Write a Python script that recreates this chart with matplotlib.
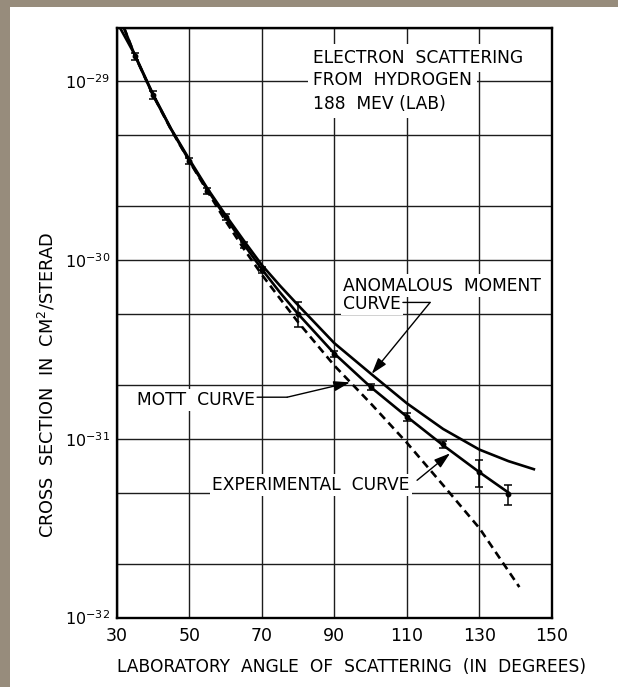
import numpy as np
import matplotlib
matplotlib.use("Agg")
import matplotlib.pyplot as plt
from matplotlib.patches import Rectangle
from matplotlib.ticker import LogLocator, NullFormatter, FuncFormatter, FixedLocator

# ---------------- data ----------------
exp_angle = [32, 35, 40, 45, 50, 55, 60, 65, 70, 75, 80, 90, 100, 110, 120, 130, 138]
exp_val = [2.0e-29, 1.40e-29, 8.4e-30, 5.4e-30, 3.6e-30, 2.48e-30, 1.74e-30, 1.23e-30,
           8.9e-31, 6.6e-31, 5.0e-31, 3.0e-31, 1.95e-31, 1.33e-31, 9.2e-32, 6.5e-32, 5.0e-32]

anom_angle = [30.9, 35, 40, 45, 50, 55, 60, 65, 70, 75, 80, 90, 100, 110, 120, 130, 138, 145]
anom_val = [2.0e-29, 1.41e-29, 8.5e-30, 5.43e-30, 3.67e-30, 2.52e-30, 1.79e-30, 1.29e-30,
            9.4e-31, 7.2e-31, 5.6e-31, 3.43e-31, 2.32e-31, 1.58e-31, 1.135e-31, 8.7e-32,
            7.5e-32, 6.76e-32]

mott_angle = [32, 35, 40, 45, 50, 55, 60, 65, 70, 75, 80, 90, 100, 110, 120, 130, 141]
mott_val = [2.0e-29, 1.40e-29, 8.4e-30, 5.37e-30, 3.59e-30, 2.43e-30, 1.66e-30, 1.16e-30,
            8.3e-31, 6.1e-31, 4.5e-31, 2.57e-31, 1.58e-31, 9.5e-32, 5.5e-32, 3.16e-32, 1.48e-32]

pt_angle = [35, 40, 50, 55, 60, 65, 70, 80, 90, 100, 110, 120, 130, 138]
pt_val = [1.38e-29, 8.4e-30, 3.6e-30, 2.45e-30, 1.75e-30, 1.22e-30, 8.8e-31, 5.0e-31,
          3.0e-31, 1.96e-31, 1.33e-31, 9.3e-32, 6.5e-32, 4.9e-32]
pt_err_pct = [5, 5, 4, 4, 4, 4, 4, 16, 4, 4, 5, 5, 17, 13]

x_ticks = [30, 50, 70, 90, 110, 130, 150]
title_lines = ["ELECTRON  SCATTERING", "FROM  HYDROGEN", "188  MEV (LAB)"]

# ---------------- figure ----------------
W, H = 618, 687
fig = plt.figure(figsize=(W / 100, H / 100), dpi=100, facecolor="white")

# textured scan border (top and left strips)
fig.patches.append(Rectangle((0, 1 - 7 / H), 1, 7 / H, transform=fig.transFigure,
                             facecolor="#978c7c", edgecolor="none", zorder=0))
fig.patches.append(Rectangle((0, 0), 9.5 / W, 1, transform=fig.transFigure,
                             facecolor="#978c7c", edgecolor="none", zorder=0))

L, R, T, B = 116.7, 552.0, 27.7, 617.5
ax = fig.add_axes([L / W, 1 - B / H, (R - L) / W, (B - T) / H])
ax.set_facecolor("white")

ax.set_yscale("log")
ax.set_xlim(30, 150)
ax.set_ylim(1e-32, 2e-29)

ax.xaxis.set_major_locator(FixedLocator(x_ticks))
ax.set_xticklabels([str(t) for t in x_ticks])
ax.yaxis.set_major_locator(LogLocator(base=10, numticks=10))
ax.yaxis.set_minor_locator(LogLocator(base=10, subs=(2.0, 5.0), numticks=10))
ax.yaxis.set_minor_formatter(NullFormatter())
ax.yaxis.set_major_formatter(FuncFormatter(lambda v, p: "10$^{%d}$" % int(round(np.log10(v)))))

ax.tick_params(axis="both", which="both", length=0)
ax.tick_params(axis="x", pad=7, labelsize=12.5)
ax.tick_params(axis="y", pad=4.5, labelsize=11.5)

ax.set_axisbelow(True)
ax.grid(True, which="both", color="#1c1c1c", lw=1.0)
for s in ax.spines.values():
    s.set_linewidth(1.7)
    s.set_color("black")

# curves
ax.plot(anom_angle, anom_val, color="black", lw=1.9, zorder=4)
ax.plot(exp_angle, exp_val, color="black", lw=1.9, zorder=4)
ax.plot(mott_angle, mott_val, color="black", lw=1.9, dashes=(3.0, 1.9), zorder=4)

pv = np.array(pt_val)
pe = pv * np.array(pt_err_pct) / 100.0
ax.errorbar(pt_angle, pt_val, yerr=[pe, pe], fmt="o", ms=3.2, color="black",
            ecolor="black", elinewidth=1.1, capsize=2.6, capthick=1.1, zorder=5)

fs = 12.3
box = dict(facecolor="white", edgecolor="none", boxstyle="square,pad=0.3")
tiny = dict(facecolor="white", edgecolor="none", boxstyle="square,pad=0.12")

# title block
for txt, yv in zip(title_lines, [1.27e-29, 9.57e-30, 7.02e-30]):
    ax.text(84.2, yv, txt, fontsize=fs, ha="left", va="baseline", bbox=box, zorder=3)

# anomalous moment label
ax.text(92.4, 6.76e-31, "ANOMALOUS  MOMENT", fontsize=fs, ha="left", va="baseline",
        bbox=tiny, zorder=3)
ax.text(92.4, 5.36e-31, "CURVE", fontsize=fs, ha="left", va="baseline", bbox=tiny, zorder=3)
ax.annotate("", xy=(116.4, 5.8e-31), xytext=(108.9, 5.8e-31),
            arrowprops=dict(arrowstyle="-", color="black", lw=1.0, shrinkA=0, shrinkB=0), zorder=6)
ax.annotate("", xy=(100.3, 2.31e-31), xytext=(116.4, 5.8e-31),
            arrowprops=dict(arrowstyle="-|>,head_length=0.7,head_width=0.22", color="black",
                            lw=1.0, shrinkA=0, shrinkB=0, mutation_scale=14), zorder=6)

# Mott label
ax.text(35.6, 1.54e-31, "MOTT  CURVE", fontsize=fs, ha="left", va="baseline", bbox=tiny, zorder=3)
ax.annotate("", xy=(77.0, 1.71e-31), xytext=(68.7, 1.71e-31),
            arrowprops=dict(arrowstyle="-", color="black", lw=1.0, shrinkA=0, shrinkB=0), zorder=6)
ax.annotate("", xy=(94.3, 2.07e-31), xytext=(77.0, 1.71e-31),
            arrowprops=dict(arrowstyle="-|>,head_length=0.7,head_width=0.22", color="black",
                            lw=1.0, shrinkA=0, shrinkB=0, mutation_scale=14), zorder=6)

# experimental label
ax.text(56.3, 5.15e-32, "EXPERIMENTAL  CURVE", fontsize=fs, ha="left", va="baseline",
        bbox=tiny, zorder=3)
ax.annotate("", xy=(121.9, 8.3e-32), xytext=(112.8, 5.86e-32),
            arrowprops=dict(arrowstyle="-|>,head_length=0.7,head_width=0.22", color="black",
                            lw=1.0, shrinkA=0, shrinkB=0, mutation_scale=14), zorder=6)

# axis labels
fig.text(47 / W, 1 - 385 / H, "CROSS  SECTION  IN  CM$^{2}$/STERAD", rotation=90,
         ha="center", va="center", fontsize=12.8)
fig.text(352 / W, 1 - 667 / H, "LABORATORY  ANGLE  OF  SCATTERING  (IN  DEGREES)",
         ha="center", va="center", fontsize=12.3)

fig.savefig("out.png", dpi=100, facecolor="white")
